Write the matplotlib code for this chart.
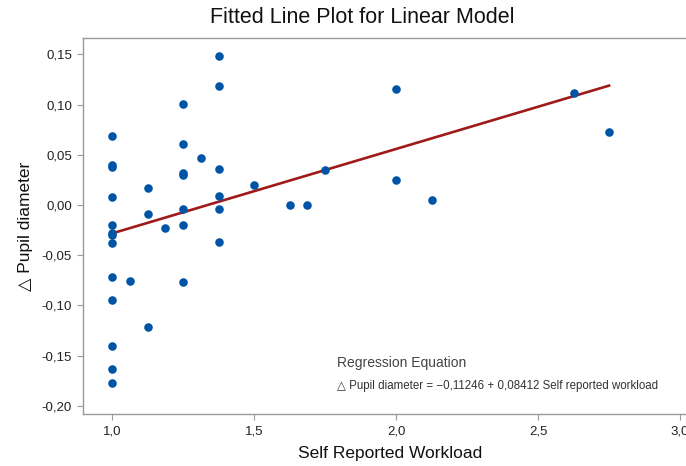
import matplotlib
matplotlib.use("Agg")
import matplotlib.pyplot as plt
import numpy as np

plt.rcParams['font.family'] = ['Liberation Sans', 'DejaVu Sans']

# self reported workload vs change in pupil diameter
workload = [1.0, 1.0, 1.0, 1.0, 1.0, 1.0, 1.0, 1.0, 1.0, 1.0, 1.0, 1.0, 1.0,
            1.0625, 1.125, 1.125, 1.125, 1.1875,
            1.25, 1.25, 1.25, 1.25, 1.25, 1.25, 1.25, 1.3125,
            1.375, 1.375, 1.375, 1.375, 1.375, 1.375, 1.5,
            1.625, 1.6875, 1.75, 2.0, 2.0, 2.125, 2.625, 2.75]
pupil = [0.069, 0.040, 0.038, 0.008, -0.020, -0.028, -0.030, -0.038, -0.072,
         -0.095, -0.140, -0.163, -0.177,
         -0.076, 0.017, -0.009, -0.122, -0.023,
         0.101, 0.061, 0.032, 0.030, -0.004, -0.020, -0.077, 0.047,
         0.148, 0.119, 0.036, 0.009, -0.004, -0.037, 0.020,
         0.000, 0.000, 0.035, 0.116, 0.025, 0.005, 0.112, 0.073]

b0, b1 = -0.11246, 0.08412
xticks = [1.0, 1.5, 2.0, 2.5, 3.0]
yticks = [0.15, 0.10, 0.05, 0.00, -0.05, -0.10, -0.15, -0.20]

fig = plt.figure(figsize=(6.86, 4.66), dpi=100)
ax = fig.add_axes([0.1203, 0.1116, 0.8797, 0.8079])

ax.scatter(workload, pupil, s=38, color='#0054A6', zorder=3, linewidths=0)
xl = np.array([min(workload), max(workload)])
ax.plot(xl, b0 + b1 * xl, color='#A01A1A', lw=1.9, zorder=2)

ax.set_xlim(0.896, 3.021)
ax.set_ylim(-0.2082, 0.1668)
ax.set_xticks(xticks)
ax.set_xticklabels([f"{v:.1f}".replace('.', ',') for v in xticks])
ax.set_yticks(yticks)
ax.set_yticklabels([f"{v:.2f}".replace('.', ',') for v in yticks])

for s in ['left', 'bottom', 'top']:
    ax.spines[s].set_color('#999999')
    ax.spines[s].set_linewidth(1.0)
ax.spines['right'].set_visible(False)
ax.tick_params(colors='#999999', labelcolor='#222222', labelsize=9.5, length=4)
ax.tick_params(axis='x', pad=4.5)

fig.text(0.528, 0.962, 'Fitted Line Plot for Linear Model', ha='center', va='center',
         fontsize=15.5, color='#111111')
fig.text(0.569, 0.010, 'Self Reported Workload', ha='center', va='bottom',
         fontsize=12.5, color='#111111')
fig.text(0.037, 0.515, '△ Pupil diameter', ha='center', va='center', rotation=90,
         fontsize=12.5, color='#111111')

fig.text(0.491, 0.212, 'Regression Equation', ha='left', va='baseline',
         fontsize=10, color='#444444')
fig.text(0.491, 0.165, '△ Pupil diameter = −0,11246 + 0,08412 Self reported workload',
         ha='left', va='baseline', fontsize=8.3, color='#333333')

fig.savefig('out.png', dpi=100)
